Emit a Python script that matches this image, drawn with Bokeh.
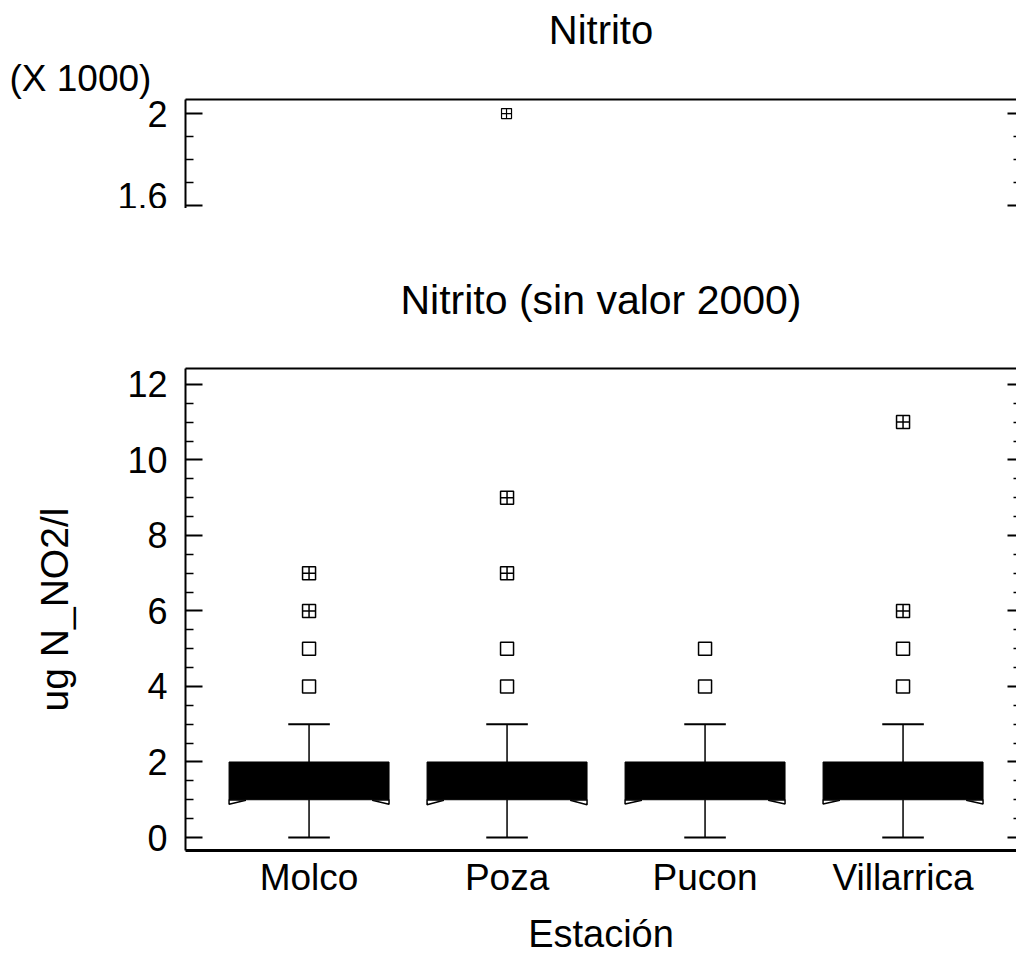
from bokeh.plotting import figure
from bokeh.models import (LinearAxis, FixedTicker, Title, CustomJSTickFormatter,
                          Range1d, ColumnDataSource)
from bokeh.layouts import column
from bokeh.embed import file_html
from bokeh.resources import INLINE

# ---------------- data ----------------
stations = ["Molco", "Poza", "Pucon", "Villarrica"]
q1 = [1.0, 1.0, 1.0, 1.0]
median = [1.0, 1.0, 1.0, 1.0]
q3 = [2.0, 2.0, 2.0, 2.0]
whisker_low = [0.0, 0.0, 0.0, 0.0]
whisker_high = [3.0, 3.0, 3.0, 3.0]
notch_low = [0.88, 0.87, 0.89, 0.89]

# outside points (square) and far-outside points (square with cross)
outside_station = ["Molco", "Molco", "Poza", "Poza", "Pucon", "Pucon", "Villarrica", "Villarrica"]
outside_value = [4, 5, 4, 5, 4, 5, 4, 5]
far_station = ["Molco", "Molco", "Poza", "Poza", "Villarrica", "Villarrica"]
far_value = [6, 7, 7, 9, 6, 11]

# full data chart (only the top part visible): value 2000 at Poza
full_station = ["Poza"]
full_value = [2000]

y_ticks = [0, 2, 4, 6, 8, 10, 12]
y_minor = [0.5 * k for k in range(0, 25) if k % 4 != 0]
top_ticks = [1.6, 2.0]          # in thousands
top_minor = [1.7, 1.8, 1.9]

FONT = "Liberation Sans"
W = 1016

pos = {s: i + 1 for i, s in enumerate(stations)}
BOX_HALF = 0.404
CAP_HALF = 0.105
FLAP_W = 0.085


def inward_axis(ticks, minor, major_in, minor_in, line=True, labels=True,
                size="36px", standoff=18, fmt=None):
    ax = LinearAxis(ticker=FixedTicker(ticks=ticks, minor_ticks=minor))
    ax.major_tick_in = major_in
    ax.major_tick_out = 0
    ax.minor_tick_in = minor_in
    ax.minor_tick_out = 0
    ax.major_tick_line_width = 2
    ax.minor_tick_line_width = 1.5
    ax.major_tick_line_color = "black"
    ax.minor_tick_line_color = "black"
    if line:
        ax.axis_line_width = 2
        ax.axis_line_color = "black"
    else:
        ax.axis_line_color = None
    if labels:
        ax.major_label_text_font = FONT
        ax.major_label_text_font_size = size
        ax.major_label_text_color = "black"
        ax.major_label_standoff = standoff
        if fmt is not None:
            ax.formatter = fmt
    else:
        ax.formatter = CustomJSTickFormatter(code="return ''")
        ax.major_label_standoff = 0
        ax.major_label_text_font_size = "1px"
    return ax


def line_axis(width=2):
    ax = LinearAxis(ticker=FixedTicker(ticks=[]))
    ax.major_tick_line_color = None
    ax.minor_tick_line_color = None
    ax.axis_line_width = width
    ax.axis_line_color = "black"
    ax.formatter = CustomJSTickFormatter(code="return ''")
    ax.major_label_standoff = 0
    ax.major_label_text_font_size = "1px"
    return ax


# ---------------- top chart (full data, cropped) ----------------
top = figure(width=W, height=208,
             x_range=Range1d(0.369, 4.591), y_range=Range1d(1.587, 2.061),
             output_backend="svg", toolbar_location=None,
             x_axis_location=None, y_axis_location=None,
             min_border_left=180, min_border_right=0,
             min_border_top=99, min_border_bottom=0,
             outline_line_color=None, background_fill_color="white",
             border_fill_color="white")
top.grid.visible = False

top.add_layout(line_axis(2), "above")
top.add_layout(inward_axis(top_ticks, top_minor, 17, 8, size="36px", standoff=18,
                           fmt=CustomJSTickFormatter(code="return String(Math.round(tick*10)/10)")),
               "left")
top.add_layout(inward_axis(top_ticks, top_minor, 9, 3, line=False, labels=False), "right")

top.add_layout(Title(text="(X 1000)", align="left", offset=-176, standoff=2,
                     text_font=FONT, text_font_size="37px", text_font_style="normal",
                     text_color="black"), "above")
top.add_layout(Title(text="Nitrito", align="center", standoff=6,
                     text_font=FONT, text_font_size="40px", text_font_style="normal",
                     text_color="black"), "above")

full_src = ColumnDataSource(dict(x=[pos[s] for s in full_station],
                                 y=[v / 1000.0 for v in full_value]))
top.scatter("x", "y", source=full_src, marker="square_cross", size=10,
            fill_color="white", line_color="black", line_width=1.2)

# ---------------- bottom chart (without the 2000 value) ----------------
p = figure(width=W, height=749,
           x_range=Range1d(0.376, 4.573), y_range=Range1d(-0.344, 12.42),
           output_backend="svg", toolbar_location=None,
           x_axis_location=None, y_axis_location=None,
           min_border_left=185, min_border_right=0,
           min_border_top=160, min_border_bottom=107,
           outline_line_color=None, background_fill_color="white",
           border_fill_color="white")
p.grid.visible = False

p.add_layout(line_axis(2), "above")
yax = inward_axis(y_ticks, y_minor, 17, 8, size="36px", standoff=18)
yax.axis_label = "ug N_NO2/l"
yax.axis_label_text_font = FONT
yax.axis_label_text_font_size = "39px"
yax.axis_label_text_font_style = "normal"
yax.axis_label_text_color = "black"
yax.axis_label_standoff = 48
p.add_layout(yax, "left")
p.add_layout(inward_axis(y_ticks, y_minor, 9, 3, line=False, labels=False), "right")

xax = LinearAxis(ticker=FixedTicker(ticks=[pos[s] for s in stations], minor_ticks=[]))
xax.major_label_overrides = {pos[s]: s for s in stations}
xax.major_tick_line_color = None
xax.minor_tick_line_color = None
xax.axis_line_width = 3
xax.axis_line_color = "black"
xax.major_label_text_font = FONT
xax.major_label_text_font_size = "37px"
xax.major_label_text_color = "black"
xax.major_label_standoff = 0
xax.axis_label = "Estación"
xax.axis_label_text_font = FONT
xax.axis_label_text_font_size = "38px"
xax.axis_label_text_font_style = "normal"
xax.axis_label_text_color = "black"
xax.axis_label_standoff = 12
p.add_layout(xax, "below")

p.add_layout(Title(text="Nitrito (sin valor 2000)", align="center", standoff=92,
                   text_font=FONT, text_font_size="41px", text_font_style="normal",
                   text_color="black"), "above")

xs = [pos[s] for s in stations]

# whiskers
p.segment(x0=xs, y0=q3, x1=xs, y1=whisker_high, line_color="black", line_width=1.5)
p.segment(x0=xs, y0=whisker_low, x1=xs, y1=q1, line_color="black", line_width=1.5)
p.segment(x0=[x - CAP_HALF for x in xs], y0=whisker_high,
          x1=[x + CAP_HALF for x in xs], y1=whisker_high, line_color="black", line_width=2)
p.segment(x0=[x - CAP_HALF for x in xs], y0=whisker_low,
          x1=[x + CAP_HALF for x in xs], y1=whisker_low, line_color="black", line_width=2)

# boxes
p.quad(left=[x - BOX_HALF for x in xs], right=[x + BOX_HALF for x in xs],
       bottom=q1, top=q3, fill_color="black", line_color="black", line_width=1)

# notch flaps (median equals Q1, so the notch sticks out below the box)
flap_xs, flap_ys = [], []
for x, m, nl in zip(xs, median, notch_low):
    L, R = x - BOX_HALF, x + BOX_HALF
    flap_xs.append([L, L, L + FLAP_W])
    flap_ys.append([m, nl, m - 0.015])
    flap_xs.append([R, R, R - FLAP_W])
    flap_ys.append([m, nl, m - 0.015])
p.patches(flap_xs, flap_ys, fill_color="white", line_color="black", line_width=1.5)

# outliers
out_src = ColumnDataSource(dict(x=[pos[s] for s in outside_station], y=outside_value))
p.scatter("x", "y", source=out_src, marker="square", size=13,
          fill_color="white", line_color="black", line_width=1.5)
far_src = ColumnDataSource(dict(x=[pos[s] for s in far_station], y=far_value))
p.scatter("x", "y", source=far_src, marker="square_cross", size=13,
          fill_color="white", line_color="black", line_width=1.5)

layout = column(top, p, spacing=0)
open("out.html", "w").write(file_html(layout, INLINE))
